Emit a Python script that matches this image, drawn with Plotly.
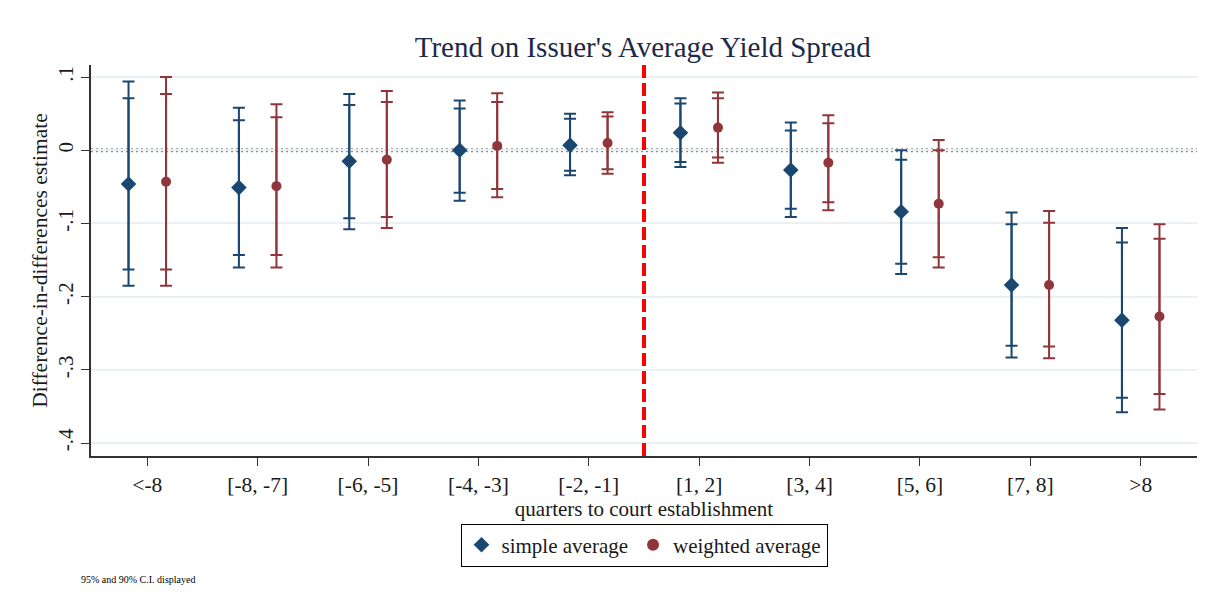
import plotly.graph_objects as go

categories = ["<-8", "[-8, -7]", "[-6, -5]", "[-4, -3]", "[-2, -1]",
              "[1, 2]", "[3, 4]", "[5, 6]", "[7, 8]", ">8"]

simple_est = [-0.046, -0.051, -0.015, 0.000, 0.007, 0.024, -0.027, -0.084, -0.184, -0.232]
simple_hi95 = [0.094, 0.058, 0.077, 0.068, 0.050, 0.071, 0.038, 0.000, -0.085, -0.106]
simple_hi90 = [0.071, 0.041, 0.062, 0.057, 0.043, 0.064, 0.027, -0.013, -0.101, -0.126]
simple_lo90 = [-0.163, -0.143, -0.093, -0.058, -0.028, -0.016, -0.080, -0.155, -0.267, -0.338]
simple_lo95 = [-0.185, -0.160, -0.108, -0.069, -0.034, -0.023, -0.091, -0.169, -0.283, -0.358]

weighted_est = [-0.043, -0.049, -0.013, 0.006, 0.010, 0.031, -0.017, -0.073, -0.184, -0.227]
weighted_hi95 = [0.100, 0.063, 0.081, 0.078, 0.052, 0.079, 0.048, 0.014, -0.083, -0.101]
weighted_hi90 = [0.077, 0.045, 0.066, 0.066, 0.046, 0.071, 0.037, 0.000, -0.099, -0.121]
weighted_lo90 = [-0.163, -0.143, -0.091, -0.053, -0.026, -0.010, -0.071, -0.146, -0.268, -0.333]
weighted_lo95 = [-0.185, -0.160, -0.106, -0.064, -0.032, -0.017, -0.082, -0.160, -0.284, -0.354]

ytick_vals = [0.1, 0.0, -0.1, -0.2, -0.3, -0.4]
ytick_text = [".1", "0", "-.1", "-.2", "-.3", "-.4"]

BLUE = "#1a476f"
RED = "#90353b"
FONT = "Liberation Serif, Times New Roman, serif"

pos = list(range(1, len(categories) + 1))
off = 0.17
x_simple = [p - off for p in pos]
x_weighted = [p + off for p in pos]

fig = go.Figure()


def add_series(xs, est, hi95, hi90, lo90, lo95, color, symbol, size, name):
    fig.add_trace(go.Scatter(
        x=xs, y=est, mode="markers",
        marker=dict(size=1, color="rgba(0,0,0,0)"),
        error_y=dict(type="data", symmetric=False,
                     array=[h - e for h, e in zip(hi95, est)],
                     arrayminus=[e - l for e, l in zip(est, lo95)],
                     color=color, thickness=2, width=6),
        showlegend=False, hoverinfo="skip"))
    fig.add_trace(go.Scatter(
        x=xs, y=est, mode="markers", name=name,
        marker=dict(size=size, color=color, symbol=symbol),
        error_y=dict(type="data", symmetric=False,
                     array=[h - e for h, e in zip(hi90, est)],
                     arrayminus=[e - l for e, l in zip(est, lo90)],
                     color=color, thickness=2, width=6)))


add_series(x_simple, simple_est, simple_hi95, simple_hi90, simple_lo90, simple_lo95,
           BLUE, "diamond", 12, "simple average")
add_series(x_weighted, weighted_est, weighted_hi95, weighted_hi90, weighted_lo90, weighted_lo95,
           RED, "circle", 10, "weighted average")

# zero reference line
fig.add_shape(type="line", xref="paper", x0=0, x1=1, yref="y", y0=0, y1=0,
              line=dict(color="#8a8a8a", width=4, dash="2px,3px"), layer="below")
# event line
fig.add_shape(type="line", xref="x", x0=5.5, x1=5.5, yref="paper", y0=0, y1=1,
              line=dict(color="#ff0000", width=4, dash="13px,5px"), layer="above")

fig.add_annotation(text="95% and 90% C.I. displayed", xref="paper", yref="paper",
                   x=-0.011, y=-0.316, xanchor="left", yanchor="middle", showarrow=False,
                   font=dict(family=FONT, size=10, color="#000000"))

fig.update_layout(
    width=1215, height=609,
    margin=dict(l=91, r=18, t=65, b=153),
    paper_bgcolor="white", plot_bgcolor="white",
    font=dict(family=FONT, color="#1a1a1a"),
    title=dict(text="Trend on Issuer's Average Yield Spread", x=0.529, xanchor="center",
               y=0.923, yanchor="middle", font=dict(family=FONT, size=29, color="#1c2a48")),
    xaxis=dict(range=[0.49, 10.51], tickmode="array", tickvals=pos, ticktext=categories,
               showgrid=False, zeroline=False, showline=True, linecolor="#333333", linewidth=1.5,
               ticks="outside", ticklen=8, tickcolor="#333333", tickwidth=1,
               tickfont=dict(family=FONT, size=21.5, color="#1a1a1a"),
               title=dict(text="quarters to court establishment", standoff=0,
                          font=dict(family=FONT, size=21, color="#1a1a1a"))),
    yaxis=dict(range=[-0.4176, 0.1165], tickmode="array", tickvals=ytick_vals, ticktext=ytick_text,
               tickangle=-90, showgrid=True, gridcolor="#eaf0f3", gridwidth=1.5, zeroline=False,
               showline=True, linecolor="#333333", linewidth=1.5,
               ticks="outside", ticklen=8, tickcolor="#333333", tickwidth=1,
               tickfont=dict(family=FONT, size=21, color="#1a1a1a"),
               title=dict(text="Difference-in-differences estimate", standoff=0,
                          font=dict(family=FONT, size=21.5, color="#1a1a1a"))),
    legend=dict(orientation="h", x=0.5, xanchor="center", y=-0.228, yanchor="middle",
                bordercolor="#000000", borderwidth=1, bgcolor="white",
                font=dict(family=FONT, size=21, color="#1a1a1a"), itemsizing="constant"),
)

fig.write_html("out.html")
